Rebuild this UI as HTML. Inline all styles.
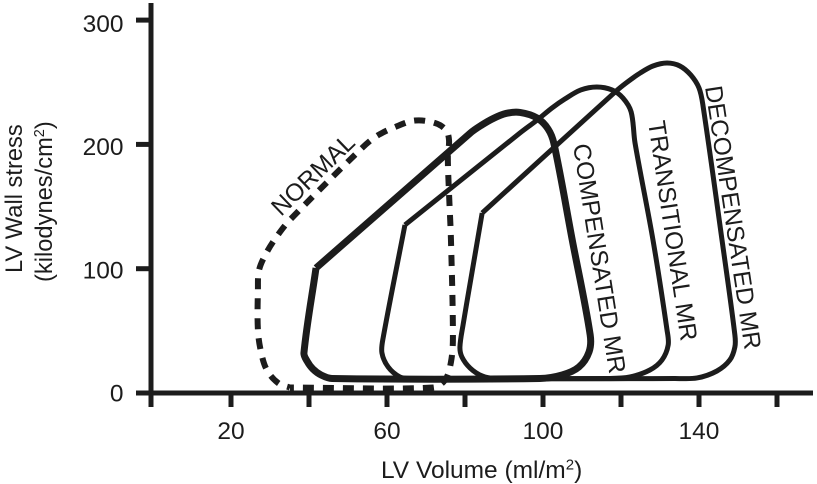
<!DOCTYPE html>
<html lang="en">
<head>
<meta charset="utf-8">
<title>LV Wall stress vs LV Volume</title>
<style>
  html, body { margin: 0; padding: 0; background: #fff; }
  #chart { display: block; width: 817px; height: 484px; }
  text { font-family: "Liberation Sans", sans-serif; fill: #1c1c1c; }
</style>
</head>
<body>
<svg id="chart" xmlns="http://www.w3.org/2000/svg" width="817" height="484" viewBox="0 0 817 484">
  <g id="loops" fill="none" stroke="#1c1c1c" stroke-linejoin="round"></g>
  <g id="axes" stroke="#1c1c1c" stroke-width="5" fill="none"></g>
  <g id="tick-labels" font-size="24.5"></g>

  <text x="381" y="478" font-size="24.5">LV Volume (ml/m<tspan dy="-8.5" font-size="15">2</tspan><tspan dy="8.5">)</tspan></text>
  <text transform="translate(22,273) rotate(-90)" font-size="23.7">LV Wall stress</text>
  <text transform="translate(52,282) rotate(-90)" font-size="23.7">(kilodynes/cm<tspan dy="-8" font-size="14.5">2</tspan><tspan dy="8">)</tspan></text>

  <text transform="translate(281,217) rotate(-44)" font-size="24.5">NORMAL</text>
  <text transform="translate(573,145) rotate(81)" font-size="24.5">COMPENSATED MR</text>
  <text transform="translate(648,122) rotate(81.5)" font-size="24.5">TRANSITIONAL MR</text>
  <text transform="translate(705,87) rotate(81.4)" font-size="24.5">DECOMPENSATED MR</text>
</svg>

<script>
// Axis ticks
const xTickValues = [20, 40, 60, 80, 100, 120, 140, 160];
const xTickLabels = ["20", "", "60", "", "100", "", "140", ""];
const yTickValues = [0, 100, 200, 300];
const yTickLabels = ["0", "100", "200", "300"];

// Loops, as [LV volume (ml/m2), LV wall stress (kilodynes/cm2)]; each starts and ends at its sharp corner
const normalLoop = [
  [35.1,4.4],[71.8,4.4],[74.9,10.5],[76.4,24.9],[76.9,44.2],[76.4,123.1],[75.9,160.9],[75.6,189.9],
  [75.9,203.5],[75.1,211.6],[72.3,217.2],[67.2,219.2],[62.1,214],[57.4,206.8],[53.6,197.1],[35.1,139.2],
  [32,127.1],[29.2,113.4],[27.2,99],[26.9,82.9],[26.9,50.7],[27.7,33],[29.2,18.5],[32.1,8],[35.1,4.4]
];
const compensatedLoop = [
  [41.8,100.6],[81.3,209],[84.1,215.2],[87.2,220.8],[90.5,224.9],[94.1,225.7],[98.5,221.2],[101.3,212.4],[102.8,200.7],
  [107.5,123.1],[112.1,46.7],[111.8,33],[109.2,20.9],[104.9,14.5],[99.2,11.7],[45.9,11.7],[43.1,14.5],[41,19.3],
  [39.5,25.7],[38.7,32.2],[41.8,100.6]
];
const transitionalLoop = [
  [64.6,135.2],[94.1,209.2],[98.5,219.6],[102.3,229.3],[105.6,236.5],[109.7,243.8],[113.8,246.2],[117.7,243.8],
  [120.5,237.3],[122.6,226.1],[123.6,201.1],[128.2,123.1],[131.8,50.7],[132.1,38.6],[130.5,26.5],[127.4,18.5],
  [122.3,12.9],[117.2,11.7],[65.9,11.7],[63.3,12.9],[60.3,20.9],[58.7,32.2],[59,44.2],[64.6,135.2]
];
const decompensatedLoop = [
  [84.4,144.8],[118.5,242.2],[121.3,249.4],[124.9,257.4],[128.2,263.1],[131.8,265.5],[135.1,263.1],[137.9,255.8],
  [140,245.4],[141,231.7],[145.9,123.1],[149.2,46.7],[149.2,37],[147.9,26.5],[144.6,17.7],[139.5,12.1],
  [133.8,11.7],[87.7,11.7],[84.4,13.7],[81.3,20.1],[79.2,29],[78.7,37],[79.5,54.7],[84.4,144.8]
];

// Axis functions
function xScale(v) { return 153 + 3.9 * v; }
function yScale(v) { return 393 - 1.243 * v; }

const SVG_NS = "http://www.w3.org/2000/svg";

function smoothPath(points) {
  const p = points.map(function (d) { return [xScale(d[0]), yScale(d[1])]; });
  let d = "M" + p[0][0].toFixed(2) + " " + p[0][1].toFixed(2);
  function tangent(i) {
    const a = p[Math.max(i - 1, 0)];
    const b = p[Math.min(i + 1, p.length - 1)];
    const dx = b[0] - a[0];
    const dy = b[1] - a[1];
    const len = Math.hypot(dx, dy) || 1;
    return [dx / len, dy / len];
  }
  for (let i = 0; i < p.length - 1; i++) {
    const len = Math.hypot(p[i + 1][0] - p[i][0], p[i + 1][1] - p[i][1]);
    const t0 = tangent(i);
    const t1 = tangent(i + 1);
    const c1x = p[i][0] + t0[0] * len / 3;
    const c1y = p[i][1] + t0[1] * len / 3;
    const c2x = p[i + 1][0] - t1[0] * len / 3;
    const c2y = p[i + 1][1] - t1[1] * len / 3;
    d += "C" + c1x.toFixed(2) + " " + c1y.toFixed(2) + " " + c2x.toFixed(2) + " " + c2y.toFixed(2) + " " + p[i + 1][0].toFixed(2) + " " + p[i + 1][1].toFixed(2);
  }
  return d;
}

const loopsGroup = document.getElementById("loops");

const normalPath = document.createElementNS(SVG_NS, "path");


normalPath.setAttribute("d", smoothPath(normalLoop));
normalPath.setAttribute("stroke-width", "6");
normalPath.setAttribute("stroke-dasharray", "11 9");
normalPath.setAttribute("stroke-dashoffset", "7");
normalPath.setAttribute("stroke-linejoin", "miter");
loopsGroup.appendChild(normalPath);

const decompensatedPath = document.createElementNS(SVG_NS, "path");


decompensatedPath.setAttribute("d", smoothPath(decompensatedLoop));
decompensatedPath.setAttribute("stroke-width", "5");
loopsGroup.appendChild(decompensatedPath);

const transitionalPath = document.createElementNS(SVG_NS, "path");


transitionalPath.setAttribute("d", smoothPath(transitionalLoop));
transitionalPath.setAttribute("stroke-width", "5");
loopsGroup.appendChild(transitionalPath);

const compensatedPath = document.createElementNS(SVG_NS, "path");


compensatedPath.setAttribute("d", smoothPath(compensatedLoop));
compensatedPath.setAttribute("stroke-width", "7");
loopsGroup.appendChild(compensatedPath);

// Axes and ticks
const axesGroup = document.getElementById("axes");
const labelsGroup = document.getElementById("tick-labels");
const axisX = 151;

function addLine(x1, y1, x2, y2, name) {
  const line = document.createElementNS(SVG_NS, "line");
  line.setAttribute("x1", x1);
  line.setAttribute("y1", y1);
  line.setAttribute("x2", x2);
  line.setAttribute("y2", y2);
  
  
  axesGroup.appendChild(line);
}

addLine(axisX, 3, axisX, 407, "y-axis-line");
addLine(136, yScale(0), 813, yScale(0), "x-axis-line");

xTickValues.forEach(function (v, i) {
  addLine(xScale(v), yScale(0), xScale(v), 407, "x-tick");
  if (xTickLabels[i]) {
    const t = document.createElementNS(SVG_NS, "text");
    t.setAttribute("x", xScale(v));
    t.setAttribute("y", 439);
    t.setAttribute("text-anchor", "middle");
    
    
    t.textContent = xTickLabels[i];
    labelsGroup.appendChild(t);
  }
});

yTickValues.forEach(function (v, i) {
  addLine(136, yScale(v), axisX, yScale(v), "y-tick");
  const t = document.createElementNS(SVG_NS, "text");
  t.setAttribute("x", 123.5);
  t.setAttribute("y", 401.7 - 1.233 * v);
  t.setAttribute("text-anchor", "end");
  
  
  t.textContent = yTickLabels[i];
  labelsGroup.appendChild(t);
});
</script>
</body>
</html>
